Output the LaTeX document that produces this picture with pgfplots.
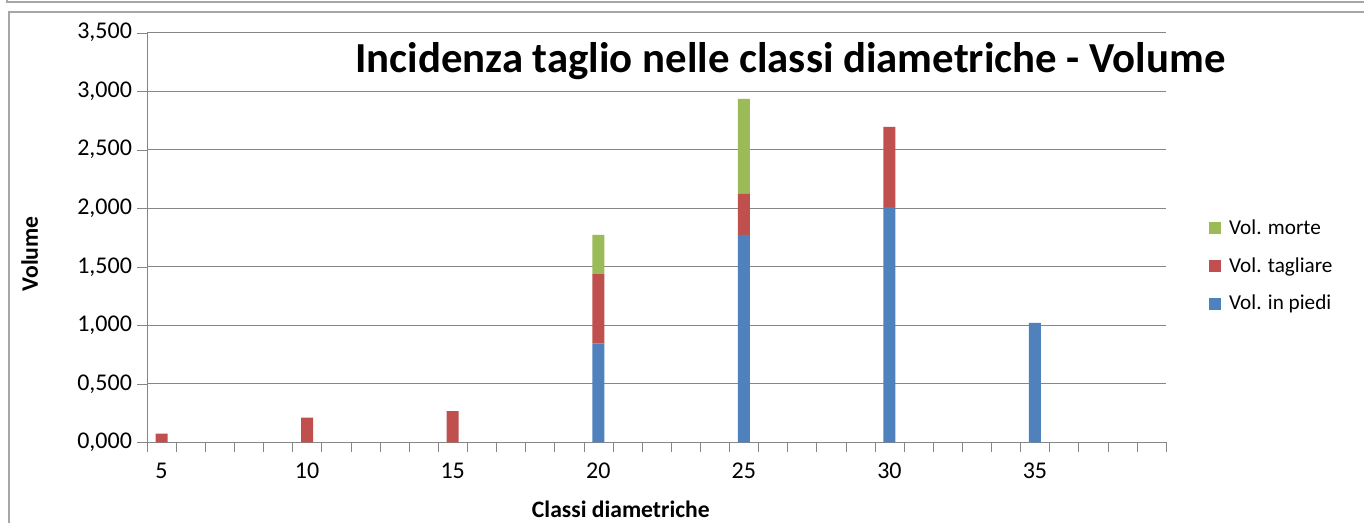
\documentclass[border=0pt]{standalone}
\usepackage{fontspec}
\setmainfont{Carlito}
\usepackage{pgfplots}
\pgfplotsset{compat=1.18}
\usepackage{pgfplotstable}
\definecolor{VBlue}{HTML}{4F81BD}
\definecolor{VRed}{HTML}{C0504D}
\definecolor{VGreen}{HTML}{9BBB59}
\definecolor{GridGray}{HTML}{868686}
\definecolor{FrameGray}{HTML}{A6A6A6}

% classe  in_piedi  tagliare  morte
\pgfplotstableread{
x   piedi  tagliare  morte
5   0      0.074     0
10  0      0.210     0
15  0      0.267     0
20  0.846  0.592     0.334
25  1.772  0.350     0.812
30  2.009  0.686     0
35  1.020  0         0
}\voldata

\newcommand{\tickfont}{\fontsize{12}{14}\selectfont}

\begin{document}
\begin{tikzpicture}
% canvas: 1364 x 523 px at 0.5pt per px
\useasboundingbox (0pt,0pt) rectangle (682pt,-261.5pt);
\draw[FrameGray,line width=0.6pt] (3.5pt,0pt) -- (3.5pt,-1pt) -- (682pt,-1pt);
\draw[FrameGray,line width=0.6pt] (4.5pt,-261.5pt) -- (4.5pt,-6pt) -- (682pt,-6pt);
\begin{axis}[
  at={(73.5pt,-221.15pt)}, anchor=south west,
  scale only axis,
  width=509.5pt, height=204.8pt,
  ybar stacked, bar width=6pt, bar shift=0pt,
  xmin=4.5, xmax=39.5,
  ymin=0, ymax=3.5,
  axis lines=left,
  axis line style={-, draw=GridGray},
  xtick={5,10,15,20,25,30,35},
  minor xtick={4.5,5.5,...,39.5},
  ytick={0,0.5,...,3.5},
  tick align=outside,
  major tick length=5pt,
  minor tick length=5pt,
  xtick style={draw=none},
  minor x tick style={draw=GridGray},
  ytick style={draw=GridGray},
  ymajorgrids=true,
  grid style={draw=GridGray, line width=0.5pt},
  /pgf/number format/assume math mode=true,
  yticklabel={\tickfont\pgfmathprintnumber[fixed,fixed zerofill,precision=3,use comma,1000 sep={}]{\tick}},
  xticklabel={\tickfont\pgfmathprintnumber{\tick}},
  xticklabel style={yshift=-2pt},
  yticklabel style={xshift=1pt},
  xlabel={\textbf{Classi diametriche}},
  ylabel={\textbf{Volume}},
  label style={font=\fontsize{11.8}{13}\selectfont},
  xlabel style={at={(0.465,0)}, anchor=north, yshift=-26pt},
  ylabel style={at={(0,0.46)}, anchor=south, yshift=51pt},
  reverse legend,
  legend style={draw=none, at={(1.036,0.43)}, anchor=west,
    font=\fontsize{10.6}{12}\selectfont, row sep=6pt,
    /tikz/every odd column/.append style={column sep=2pt}},
  legend cell align=left,
  legend image code/.code={\fill[#1] (0pt,-3pt) rectangle (6pt,3pt);},
]
\addplot[fill=VBlue, draw=none] table[x=x, y=piedi] {\voldata};
\addplot[fill=VRed, draw=none] table[x=x, y=tagliare] {\voldata};
\addplot[fill=VGreen, draw=none] table[x=x, y=morte] {\voldata};
\legend{Vol. in piedi, Vol. tagliare, Vol. morte}
\end{axis}
\node[anchor=base west, inner sep=0pt, font=\fontsize{21.4}{25}\selectfont\bfseries]
  at (177.5pt,-36.3pt) {Incidenza taglio nelle classi diametriche - Volume};
\end{tikzpicture}
\end{document}
